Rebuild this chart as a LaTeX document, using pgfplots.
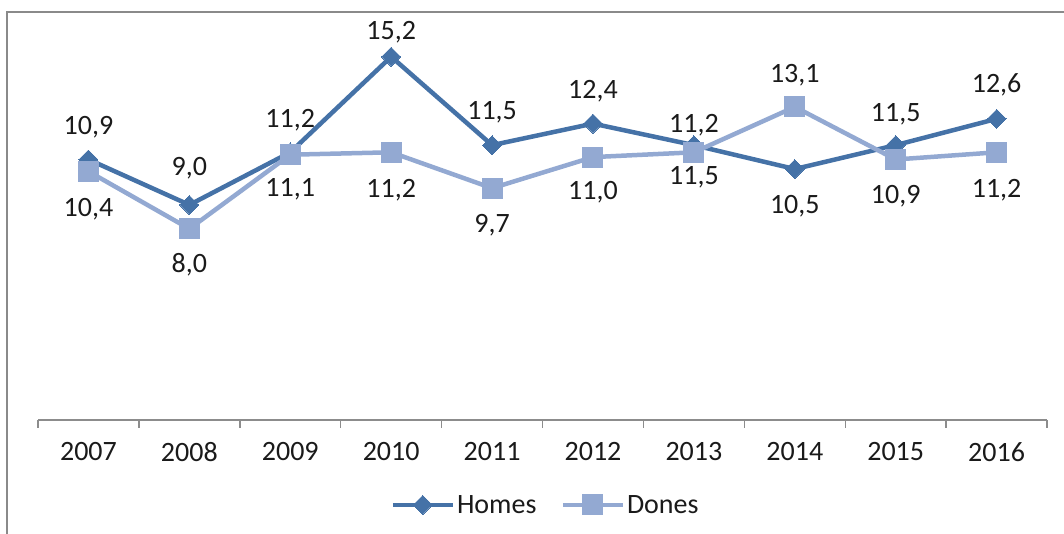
\documentclass[border=0pt]{standalone}
\usepackage{fontspec}
\setmainfont{Carlito}
\usepackage{pgfplots}
\usepackage{pgfplotstable}
\pgfplotsset{compat=1.18}
\definecolor{homes}{HTML}{4572A7}
\definecolor{dones}{HTML}{93A9D2}
\definecolor{axisgray}{HTML}{8C8C8C}
\definecolor{framegray}{HTML}{8A8A8A}
\definecolor{txt}{HTML}{1A1A1A}

\pgfplotstableread{
x y lab dy
0 10.9 10,9 32
1 9.0 9,0 37
2 11.2 11,2 32
3 15.2 15,2 25
4 11.5 11,5 33
5 12.4 12,4 32
6 11.5 11,5 -32
7 10.5 10,5 -37
8 11.5 11,5 31
9 12.6 12,6 34
}\homes

\pgfplotstableread{
x y lab dy
0 10.4 10,4 -38
1 8.0 8,0 -36
2 11.1 11,1 -35
3 11.2 11,2 -38
4 9.7 9,7 -37
5 11.0 11,0 -35
6 11.2 11,2 27
7 13.1 13,1 32
8 10.9 10,9 -37
9 11.2 11,2 -38
}\dones

\begin{document}
\begin{tikzpicture}
\path[use as bounding box] (0pt,0pt) rectangle (1064pt,534pt);
\draw[framegray, line width=2pt] (7pt,0pt) -- (7pt,522pt) -- (1064pt,522pt);
\begin{axis}[
  at={(38pt,114pt)}, anchor=south west,
  scale only axis, width=1009pt, height=382.4pt,
  xmin=-0.5, xmax=9.5, ymin=0, ymax=16,
  axis x line=bottom, axis y line=none,
  x axis line style={-, draw=axisgray, line width=1.4pt},
  xtick={0,...,9},
  xticklabels={2007,2008,2009,2010,2011,2012,2013,2014,2015,2016},
  major tick length=0pt,
  minor xtick={-0.5,0.5,...,9.5},
  minor tick length=8pt,
  tick align=outside,
  every minor tick/.append style={draw=axisgray, line width=1.4pt},
  xticklabel style={font=\fontsize{28}{33}\selectfont, text=txt, yshift=-19pt},
  clip=false,
  point meta=explicit symbolic,
  nodes near coords,
  visualization depends on={\thisrow{dy} \as \dy},
  every node near coord/.append style={anchor=center, yshift=\dy, font=\fontsize{28}{33}\selectfont, text=txt},
  legend columns=2,
  legend style={draw=none, fill=none, at={(0.503,-0.222)}, anchor=center,
    font=\fontsize{28}{33}\selectfont, text=txt,
    /tikz/every even column/.append style={column sep=22pt}},
  legend image code/.code={\draw[mark repeat=2,mark phase=2] plot coordinates {(0pt,0pt)(30pt,0pt)(60pt,0pt)};},
]
\addplot[homes, line width=4.5pt, mark=square*, mark size=6.7pt,
  mark options={rotate=45, line width=0pt, fill=homes}]
  table[x=x, y=y, meta=lab] {\homes};
\addlegendentry{Homes}
\addplot[dones, line width=4.5pt, mark=square*, mark size=10pt,
  mark options={line width=0pt, fill=dones}]
  table[x=x, y=y, meta=lab] {\dones};
\addlegendentry{Dones}
\end{axis}
\end{tikzpicture}
\end{document}
